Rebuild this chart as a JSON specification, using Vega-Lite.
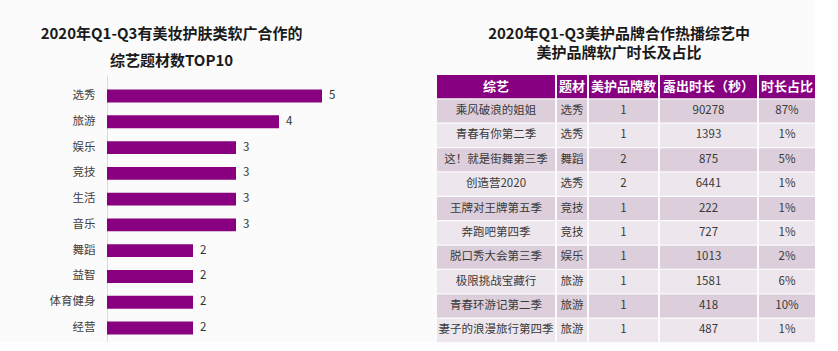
{
  "$schema": "https://vega.github.io/schema/vega-lite/v6.json",
  "background": "#fbfbfb",
  "padding": {"left": 40, "top": 27, "right": 0, "bottom": 0},
  "config": {"view": {"stroke": null}, "font": "Noto Sans CJK SC"},
  "datasets": {
    "bars": [
      {"题材": "选秀", "数量": 5},
      {"题材": "旅游", "数量": 4},
      {"题材": "娱乐", "数量": 3},
      {"题材": "竞技", "数量": 3},
      {"题材": "生活", "数量": 3},
      {"题材": "音乐", "数量": 3},
      {"题材": "舞蹈", "数量": 2},
      {"题材": "益智", "数量": 2},
      {"题材": "体育健身", "数量": 2},
      {"题材": "经营", "数量": 2}
    ],
    "table": [
      {"综艺": "乘风破浪的姐姐", "题材": "选秀", "美护品牌数": 1, "露出时长": 90278, "时长占比": 0.87},
      {"综艺": "青春有你第二季", "题材": "选秀", "美护品牌数": 1, "露出时长": 1393, "时长占比": 0.01},
      {"综艺": "这！就是街舞第三季", "题材": "舞蹈", "美护品牌数": 2, "露出时长": 875, "时长占比": 0.05},
      {"综艺": "创造营2020", "题材": "选秀", "美护品牌数": 2, "露出时长": 6441, "时长占比": 0.01},
      {"综艺": "王牌对王牌第五季", "题材": "竞技", "美护品牌数": 1, "露出时长": 222, "时长占比": 0.01},
      {"综艺": "奔跑吧第四季", "题材": "竞技", "美护品牌数": 1, "露出时长": 727, "时长占比": 0.01},
      {"综艺": "脱口秀大会第三季", "题材": "娱乐", "美护品牌数": 1, "露出时长": 1013, "时长占比": 0.02},
      {"综艺": "极限挑战宝藏行", "题材": "旅游", "美护品牌数": 1, "露出时长": 1581, "时长占比": 0.06},
      {"综艺": "青春环游记第二季", "题材": "旅游", "美护品牌数": 1, "露出时长": 418, "时长占比": 0.10},
      {"综艺": "妻子的浪漫旅行第四季", "题材": "旅游", "美护品牌数": 1, "露出时长": 487, "时长占比": 0.01}
    ]
  },
  "spacing": 101,
  "hconcat": [
    {
      "title": {"text": ["2020年Q1-Q3有美妆护肤类软广合作的", "综艺题材数TOP10"], "fontSize": 15, "fontWeight": "bold", "lineHeight": 27, "color": "#1a1a1a", "anchor": "middle", "offset": 6, "dx": -43},
      "data": {"name": "bars"},
      "width": 215,
      "height": 266,
      "encoding": {
        "y": {"field": "题材", "type": "nominal", "sort": null, "scale": {"paddingInner": 0.5, "paddingOuter": 0.41, "align": 0.69}, "axis": {"title": null, "ticks": false, "domainColor": "#d9d9d9", "labelFontSize": 11.5, "labelColor": "#404040", "labelPadding": 12}},
        "x": {"field": "数量", "type": "quantitative", "scale": {"domain": [0, 5]}, "axis": null}
      },
      "layer": [
        {"mark": {"type": "bar", "color": "#880080"}},
        {"mark": {"type": "text", "align": "left", "dx": 7, "fontSize": 11.5, "color": "#333333"}, "encoding": {"text": {"field": "数量", "type": "quantitative"}}}
      ]
    },
    {
      "title": {"text": ["2020年Q1-Q3美护品牌合作热播综艺中", "美护品牌软广时长及占比"], "fontSize": 15, "fontWeight": "bold", "lineHeight": 19, "color": "#1a1a1a", "anchor": "middle", "offset": 14, "dx": -7},
      "spacing": 2,
      "hconcat": [
        {
          "width": 118, "height": 267,
          "encoding": {"y": {"field": "综艺", "type": "nominal", "sort": null, "axis": null, "scale": {"domain": ["表头", "乘风破浪的姐姐", "青春有你第二季", "这！就是街舞第三季", "创造营2020", "王牌对王牌第五季", "奔跑吧第四季", "脱口秀大会第三季", "极限挑战宝藏行", "青春环游记第二季", "妻子的浪漫旅行第四季"], "paddingInner": 0.05, "paddingOuter": 0}}},
          "layer": [
            {"data": {"values": [{"综艺": "表头", "标题": "综艺"}]}, "mark": {"type": "rect", "color": "#870081"}},
            {"data": {"values": [{"综艺": "表头", "标题": "综艺"}]}, "mark": {"type": "text", "color": "#ffffff", "fontWeight": "bold", "fontSize": 13}, "encoding": {"text": {"field": "标题"}}},
            {"data": {"name": "table"}, "transform": [{"window": [{"op": "row_number", "as": "i"}]}], "mark": {"type": "rect"}, "encoding": {"color": {"condition": {"test": "datum.i % 2 === 1", "value": "#dccfdb"}, "value": "#ede6ec"}}},
            {"data": {"name": "table"}, "mark": {"type": "text", "color": "#3a3a3a", "fontSize": 11.5}, "encoding": {"text": {"field": "综艺"}}}
          ]
        },
        {
          "width": 30, "height": 267,
          "encoding": {"y": {"field": "综艺", "type": "nominal", "sort": null, "axis": null, "scale": {"domain": ["表头", "乘风破浪的姐姐", "青春有你第二季", "这！就是街舞第三季", "创造营2020", "王牌对王牌第五季", "奔跑吧第四季", "脱口秀大会第三季", "极限挑战宝藏行", "青春环游记第二季", "妻子的浪漫旅行第四季"], "paddingInner": 0.05, "paddingOuter": 0}}},
          "layer": [
            {"data": {"values": [{"综艺": "表头", "标题": "题材"}]}, "mark": {"type": "rect", "color": "#870081"}},
            {"data": {"values": [{"综艺": "表头", "标题": "题材"}]}, "mark": {"type": "text", "color": "#ffffff", "fontWeight": "bold", "fontSize": 13}, "encoding": {"text": {"field": "标题"}}},
            {"data": {"name": "table"}, "transform": [{"window": [{"op": "row_number", "as": "i"}]}], "mark": {"type": "rect"}, "encoding": {"color": {"condition": {"test": "datum.i % 2 === 1", "value": "#dccfdb"}, "value": "#ede6ec"}}},
            {"data": {"name": "table"}, "mark": {"type": "text", "color": "#3a3a3a", "fontSize": 11.5}, "encoding": {"text": {"field": "题材"}}}
          ]
        },
        {
          "width": 69, "height": 267,
          "encoding": {"y": {"field": "综艺", "type": "nominal", "sort": null, "axis": null, "scale": {"domain": ["表头", "乘风破浪的姐姐", "青春有你第二季", "这！就是街舞第三季", "创造营2020", "王牌对王牌第五季", "奔跑吧第四季", "脱口秀大会第三季", "极限挑战宝藏行", "青春环游记第二季", "妻子的浪漫旅行第四季"], "paddingInner": 0.05, "paddingOuter": 0}}},
          "layer": [
            {"data": {"values": [{"综艺": "表头", "标题": "美护品牌数"}]}, "mark": {"type": "rect", "color": "#870081"}},
            {"data": {"values": [{"综艺": "表头", "标题": "美护品牌数"}]}, "mark": {"type": "text", "color": "#ffffff", "fontWeight": "bold", "fontSize": 13}, "encoding": {"text": {"field": "标题"}}},
            {"data": {"name": "table"}, "transform": [{"window": [{"op": "row_number", "as": "i"}]}], "mark": {"type": "rect"}, "encoding": {"color": {"condition": {"test": "datum.i % 2 === 1", "value": "#dccfdb"}, "value": "#ede6ec"}}},
            {"data": {"name": "table"}, "mark": {"type": "text", "color": "#3a3a3a", "fontSize": 11.5}, "encoding": {"text": {"field": "美护品牌数", "type": "quantitative", "format": "d"}}}
          ]
        },
        {
          "width": 97, "height": 267,
          "encoding": {"y": {"field": "综艺", "type": "nominal", "sort": null, "axis": null, "scale": {"domain": ["表头", "乘风破浪的姐姐", "青春有你第二季", "这！就是街舞第三季", "创造营2020", "王牌对王牌第五季", "奔跑吧第四季", "脱口秀大会第三季", "极限挑战宝藏行", "青春环游记第二季", "妻子的浪漫旅行第四季"], "paddingInner": 0.05, "paddingOuter": 0}}},
          "layer": [
            {"data": {"values": [{"综艺": "表头", "标题": "露出时长（秒）"}]}, "mark": {"type": "rect", "color": "#870081"}},
            {"data": {"values": [{"综艺": "表头", "标题": "露出时长（秒）"}]}, "mark": {"type": "text", "color": "#ffffff", "fontWeight": "bold", "fontSize": 13}, "encoding": {"text": {"field": "标题"}}},
            {"data": {"name": "table"}, "transform": [{"window": [{"op": "row_number", "as": "i"}]}], "mark": {"type": "rect"}, "encoding": {"color": {"condition": {"test": "datum.i % 2 === 1", "value": "#dccfdb"}, "value": "#ede6ec"}}},
            {"data": {"name": "table"}, "mark": {"type": "text", "color": "#3a3a3a", "fontSize": 11.5}, "encoding": {"text": {"field": "露出时长", "type": "quantitative", "format": "d"}}}
          ]
        },
        {
          "width": 56, "height": 267,
          "encoding": {"y": {"field": "综艺", "type": "nominal", "sort": null, "axis": null, "scale": {"domain": ["表头", "乘风破浪的姐姐", "青春有你第二季", "这！就是街舞第三季", "创造营2020", "王牌对王牌第五季", "奔跑吧第四季", "脱口秀大会第三季", "极限挑战宝藏行", "青春环游记第二季", "妻子的浪漫旅行第四季"], "paddingInner": 0.05, "paddingOuter": 0}}},
          "layer": [
            {"data": {"values": [{"综艺": "表头", "标题": "时长占比"}]}, "mark": {"type": "rect", "color": "#870081"}},
            {"data": {"values": [{"综艺": "表头", "标题": "时长占比"}]}, "mark": {"type": "text", "color": "#ffffff", "fontWeight": "bold", "fontSize": 13}, "encoding": {"text": {"field": "标题"}}},
            {"data": {"name": "table"}, "transform": [{"window": [{"op": "row_number", "as": "i"}]}], "mark": {"type": "rect"}, "encoding": {"color": {"condition": {"test": "datum.i % 2 === 1", "value": "#dccfdb"}, "value": "#ede6ec"}}},
            {"data": {"name": "table"}, "mark": {"type": "text", "color": "#3a3a3a", "fontSize": 11.5}, "encoding": {"text": {"field": "时长占比", "type": "quantitative", "format": ".0%"}}}
          ]
        }
      ]
    }
  ]
}
